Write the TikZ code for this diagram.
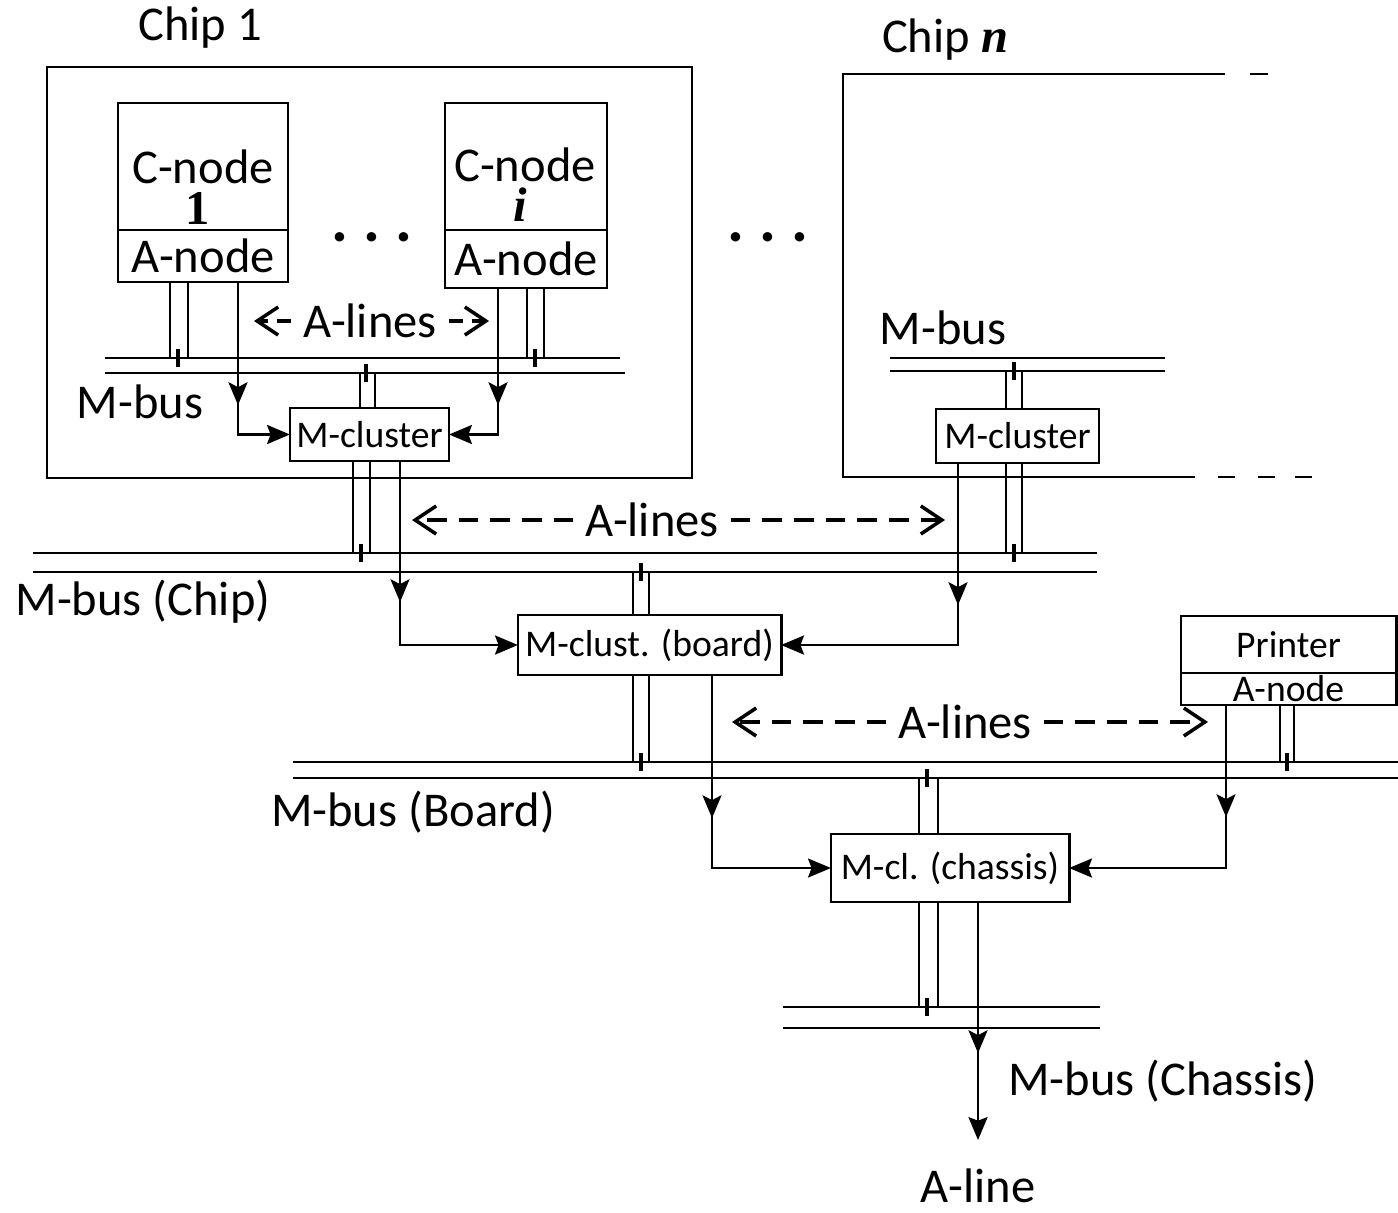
\documentclass[tikz,border=0pt]{standalone}
\usepackage{fontspec}
\setmainfont{Carlito}
\newfontfamily\serifnum{Liberation Serif}
\usepackage{tikz}
\usetikzlibrary{arrows.meta,positioning,calc,decorations.markings}
% two wires at #1 and #3 from box anchor #4 to bus line #5, tick at #2
\newcommand{\busport}[5]{%
  \draw (#1,0 |- #4) -- (#1,0 |- #5);
  \draw (#3,0 |- #4) -- (#3,0 |- #5);
  \draw[line width=1.3pt] (#2,0 |- #5) ++(0,-9) -- ++(0,18);}

\begin{document}
\begin{tikzpicture}[
  x=0.01cm, y=-0.01cm, line width=0.8pt,
  >={Stealth[length=6.5pt, width=5.4pt, inset=1pt]},
  big/.style={font=\fontsize{13.8}{16}\selectfont, inner sep=0pt},
  small/.style={font=\fontsize{10.7}{12}\selectfont},
  box/.style={draw, inner sep=0pt, outer sep=0pt, align=center},
  midarr/.style={postaction={decorate}, decoration={markings,
     mark=at position #1 with {\arrow{Stealth[length=6.5pt, width=5.4pt, inset=1.4pt]}}}},
  aline/.style={line width=1pt, dash pattern=on 5.6pt off 3.4pt,
     -{Straight Barb[length=2.1mm, width=2.8mm]}},
  ashort/.style={aline, dash pattern=on 4pt off 2.6pt}
]
  \useasboundingbox (0,0) rectangle (1398,1212);

  % chips
  \node[big] (chip1) at (200,28) {Chip 1};
  \node[big] (chipn) at (945,40) {Chip {\serifnum\bfseries\itshape n}};
  \draw (47,67) rectangle (692,478);
  \draw (1225,74) -- (843,74) -- (843,477) -- (1195,477);
  \draw (1250,74) -- (1268,74);
  \foreach \x in {1218,1258,1295} \draw (\x,477) -- ++(17,0);

  % compute nodes
  \node[box, minimum width=1.70cm, minimum height=1.27cm] (cn1) at (203,166.5) {};
  \node[box, big, minimum width=1.70cm, minimum height=0.52cm, below=0pt of cn1] (an1) {A-node};
  \node[big] (cn1t) at (203,167) {C-node};
  \node[big, font=\fontsize{13.8}{16}\serifnum\bfseries] (cn1n) at (198,208) {1};
  \node[box, minimum width=1.62cm, minimum height=1.27cm] (cni) at (526,166.5) {};
  \node[box, big, minimum width=1.62cm, minimum height=0.58cm, below=0pt of cni] (ani) {A-node};
  \node[big] (cnit) at (525,165) {C-node};
  \node[big, font=\fontsize{13.8}{16}\serifnum\bfseries\itshape] (cnin) at (520,205) {i};
  \node[font=\fontsize{18}{20}\selectfont\bfseries, inner sep=0pt] (dots1) at (372,237) {.\hspace{4.4pt}.\hspace{4.4pt}.};
  \node[font=\fontsize{18}{20}\selectfont\bfseries, inner sep=0pt] (dots2) at (768,237) {.\hspace{4.4pt}.\hspace{4.4pt}.};

  % clusters
  \node[box, small, minimum width=1.59cm, minimum height=0.53cm] (mcl1) at (369.5,434.5) {M-cluster};
  \node[box, small, minimum width=1.63cm, minimum height=0.54cm] (mcln) at (1017.5,436) {M-cluster};
  \node[box, small, minimum width=2.63cm, minimum height=0.60cm] (mcb) at (649.5,645) {M-clust. (board)};
  \node[box, small, minimum width=2.38cm, minimum height=0.68cm] (mcc) at (950,868) {M-cl. (chassis)};
  \node[box, small, minimum width=2.15cm, minimum height=0.57cm] (prn) at (1288.5,644.5) {Printer};
  \node[box, small, minimum width=2.15cm, minimum height=0.32cm, below=0pt of prn] (pan) {A-node};

  % buses
  \draw (105,358) coordinate (busAt) -- (620,358);
  \draw (105,373) coordinate (busAb) -- (625,373);
  \draw (890,358) coordinate (busNt) -- (1165,358);
  \draw (890,371) coordinate (busNb) -- (1165,371);
  \draw (33,553) coordinate (busCt) -- (1097,553);
  \draw (33,572) coordinate (busCb) -- (1097,572);
  \draw (293,762) coordinate (busBt) -- (1398,762);
  \draw (293,778) coordinate (busBb) -- (1398,778);
  \draw (783,1007) coordinate (busHt) -- (1100,1007);
  \draw (783,1028) coordinate (busHb) -- (1100,1028);
  \node[big] (mbA) at (140,402) {M-bus};
  \node[big] (mbN) at (943,328) {M-bus};
  \node[big] (mbC) at (143,602) {M-bus (Chip)};
  \node[big] (mbB) at (413,812) {M-bus (Board)};
  \node[big] (mbH) at (1163,1081) {M-bus (Chassis)};

  % bus ports
  \busport{170}{178}{188}{an1.south}{busAt}
  \busport{527}{535}{544}{ani.south}{busAt}
  \busport{360}{366}{375}{mcl1.north}{busAb}
  \busport{353}{361}{370}{mcl1.south}{busCt}
  \busport{1006}{1014}{1022}{mcln.north}{busNb}
  \busport{1006}{1014}{1022}{mcln.south}{busCt}
  \busport{633}{641}{649}{mcb.north}{busCb}
  \busport{633}{641}{649}{mcb.south}{busBt}
  \busport{1280}{1287}{1294}{pan.south}{busBt}
  \busport{919}{927}{938}{mcc.north}{busBb}
  \busport{919}{927}{938}{mcc.south}{busHt}

  % A-lines
  \draw[->, midarr=1.23cm] (238,0 |- an1.south) |- (mcl1.west);
  \draw[->, midarr=1.17cm] (498,0 |- ani.south) |- (mcl1.east);
  \draw[->, midarr=1.41cm] (400,0 |- mcl1.south) |- (mcb.west);
  \draw[->, midarr=1.42cm] (958,0 |- mcln.south) |- (mcb.east);
  \draw[->, midarr=1.43cm] (712,0 |- mcb.south) |- (mcc.west);
  \draw[->, midarr=1.12cm] (1226,0 |- pan.south) |- (mcc.east);
  \draw[->, midarr=1.51cm] (978,0 |- mcc.south) -- (978,1140) coordinate (aout);
  \node[big] (aline) at (978,1186) {A-line};

  \node[big, inner xsep=3pt] (al1) at (370,321) {A-lines};
  \draw[ashort] (al1.west) -- (254,321) coordinate (al1l);
  \draw[ashort] (al1.east) -- (489,321) coordinate (al1r);
  \node[big, inner xsep=3pt] (al2) at (652,520) {A-lines};
  \draw[aline] (al2.west) -- (412,520) coordinate (al2l);
  \draw[aline] (al2.east) -- (945,520) coordinate (al2r);
  \node[big, inner xsep=3pt] (al3) at (965,722) {A-lines};
  \draw[aline] (al3.west) -- (732,722) coordinate (al3l);
  \draw[aline] (al3.east) -- (1208,722) coordinate (al3r);
\end{tikzpicture}
\end{document}
